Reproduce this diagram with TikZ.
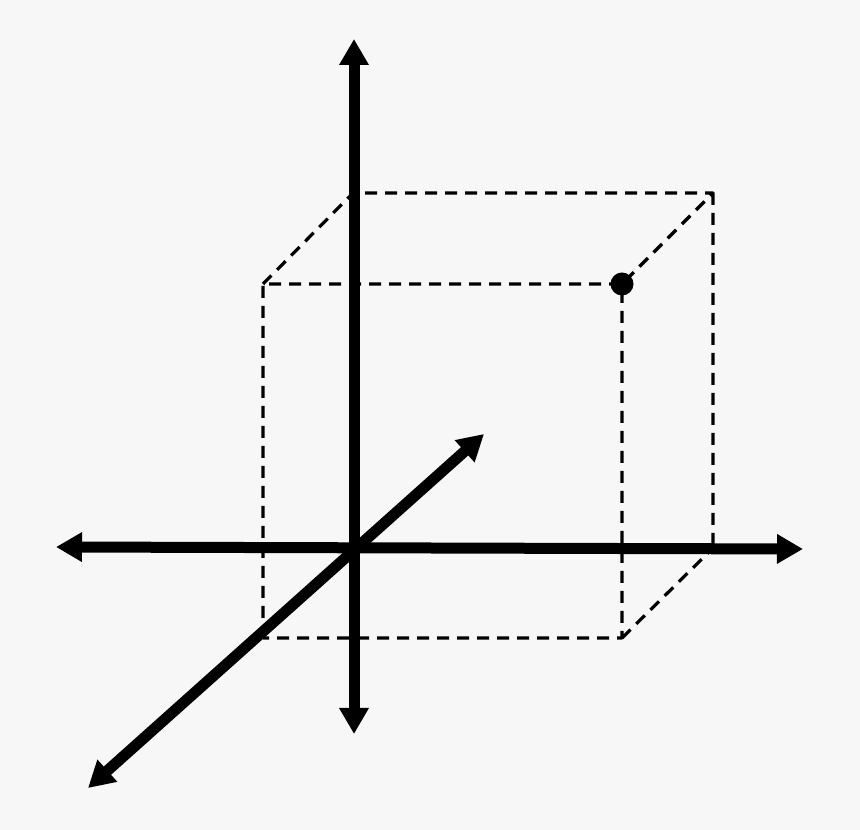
\documentclass[tikz,border=0pt]{standalone}
\usetikzlibrary{arrows.meta}
\definecolor{bgcol}{HTML}{F7F7F7}
\begin{document}
\begin{tikzpicture}[x=1pt,y=1pt,line join=round,>={Triangle[length=26pt,width=28pt]}]
	\fill[bgcol] (0,0) rectangle (860,830);
	% box corners, P is the point
	\coordinate (A) at (263,546); \coordinate (P) at (622,546); \coordinate (C) at (622,192); \coordinate (D) at (263,192);
	\coordinate (E) at (353,637); \coordinate (F) at (713,637); \coordinate (G) at (713,282);
	\draw[line width=3.2pt,dash pattern=on 12pt off 8pt] (D)--(A)--(P)--(C)--cycle (A)--(E)--(F)--(P) (F)--(G) (C)--(G);
	% axes
	\draw[<->,line width=11pt] (354,96)--(354,791);
	\draw[<->,line width=11pt] (56,283)--(803,281);
	\draw[<->,line width=11pt] (88,42)--(484,396);
	\fill (P) circle (11.5pt);
\end{tikzpicture}
\end{document}
